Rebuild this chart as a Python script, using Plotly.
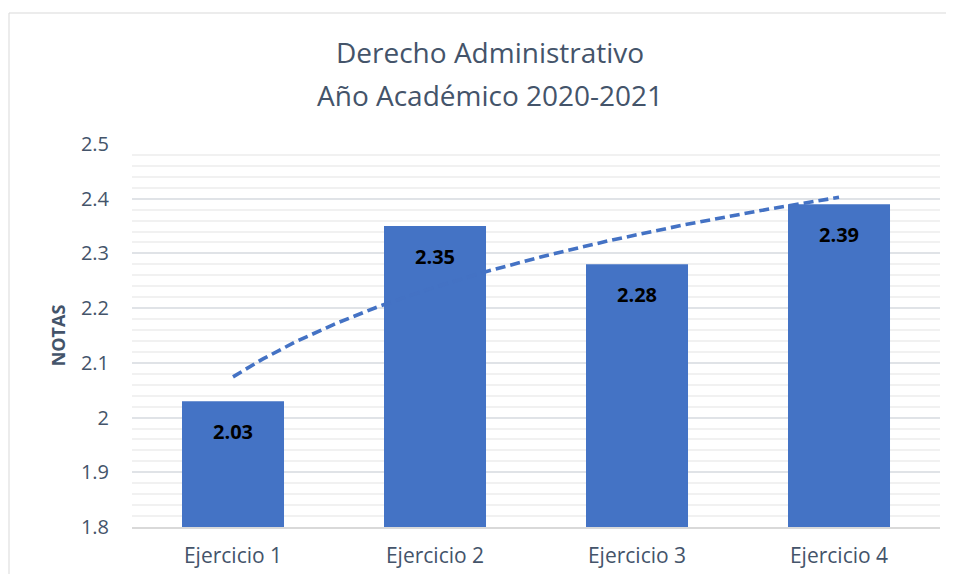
import numpy as np
import plotly.graph_objects as go

categories = ["Ejercicio 1", "Ejercicio 2", "Ejercicio 3", "Ejercicio 4"]
notas = [2.03, 2.35, 2.28, 2.39]
label_text = ["2.03", "2.35", "2.28", "2.39"]
y_ticks = [1.8, 1.9, 2.0, 2.1, 2.2, 2.3, 2.4, 2.5]
y_tick_text = ["1.8", "1.9", "2", "2.1", "2.2", "2.3", "2.4", "2.5"]
title_lines = ["Derecho Administrativo", "Año Académico 2020-2021"]

FONT = "Open Sans"
TXT = "#44546A"
BAR = "#4473C5"

xs = np.arange(len(categories))
# Logarithmic trendline (Excel style): y = a + b*ln(x), x = 1..n
b, a = np.polyfit(np.log(xs + 1), notas, 1)
xt = np.linspace(0, len(categories) - 1, 200)
yt = a + b * np.log(xt + 1)

fig = go.Figure()
fig.add_trace(go.Bar(
    x=xs, y=notas, width=0.505,
    marker=dict(color=BAR, line=dict(width=0)),
    showlegend=False, hoverinfo="skip",
))
fig.add_trace(go.Scatter(
    x=xt, y=yt, mode="lines",
    line=dict(color="#4472C4", width=3.6, dash="10px,5px"),
    showlegend=False, hoverinfo="skip",
))

for i, (v, t) in enumerate(zip(notas, label_text)):
    fig.add_annotation(x=i, y=v, text=f"<b>{t}</b>", showarrow=False,
                       yshift=-30, font=dict(family=FONT, size=20, color="#000000"))

# page body has an 8px margin; figure coords = screen coords - 8
OFF = 8
W, H = 954 - 2 * OFF, 582 - 2 * OFF
ml, mr, mt, mb = 132 - OFF, W - (940 - OFF), 144 - OFF, H - (527 - OFF)
pw, ph = W - ml - mr, H - mt - mb

def px_x(p):
    return (p - OFF - ml) / pw

def px_y(p):
    return (H - mb - (p - OFF)) / ph

fig.add_shape(type="rect", xref="paper", yref="paper",
              x0=px_x(9), x1=px_x(975), y0=px_y(600), y1=px_y(13),
              line=dict(color="#D9D9D9", width=1), fillcolor="rgba(0,0,0,0)", layer="below")

for line, ys in zip(title_lines, [52, 95]):
    fig.add_annotation(text=line, xref="paper", yref="paper",
                       x=px_x(489.5), y=px_y(ys), xanchor="center", yanchor="middle",
                       showarrow=False, font=dict(family=FONT, size=28, color=TXT))

fig.update_layout(
    width=W, height=H,
    margin=dict(l=ml, r=mr, t=mt, b=mb),
    paper_bgcolor="white", plot_bgcolor="white",
    font=dict(family=FONT, color=TXT),
)
fig.update_xaxes(
    range=[-0.5, len(categories) - 0.5],
    tickvals=list(xs), ticktext=categories,
    tickfont=dict(family=FONT, size=21, color=TXT),
    showgrid=False, zeroline=False,
    showline=True, linecolor="#D9D9D9", linewidth=1.5,
    ticks="", ticklabelstandoff=9,
)
fig.update_yaxes(
    range=[1.8, 2.5],
    tickvals=y_ticks, ticktext=y_tick_text,
    tickfont=dict(family=FONT, size=20, color=TXT),
    showgrid=True, gridcolor="#E0E3E7", gridwidth=1.5,
    minor=dict(dtick=0.02, tick0=1.8, showgrid=True, gridcolor="#F1F1F1", gridwidth=1.5),
    zeroline=False, showline=False, ticks="",
    ticklabelstandoff=22,
    title=dict(text="<b>NOTAS</b>", font=dict(family=FONT, size=18, color=TXT), standoff=10),
)

fig.write_html("out.html")
